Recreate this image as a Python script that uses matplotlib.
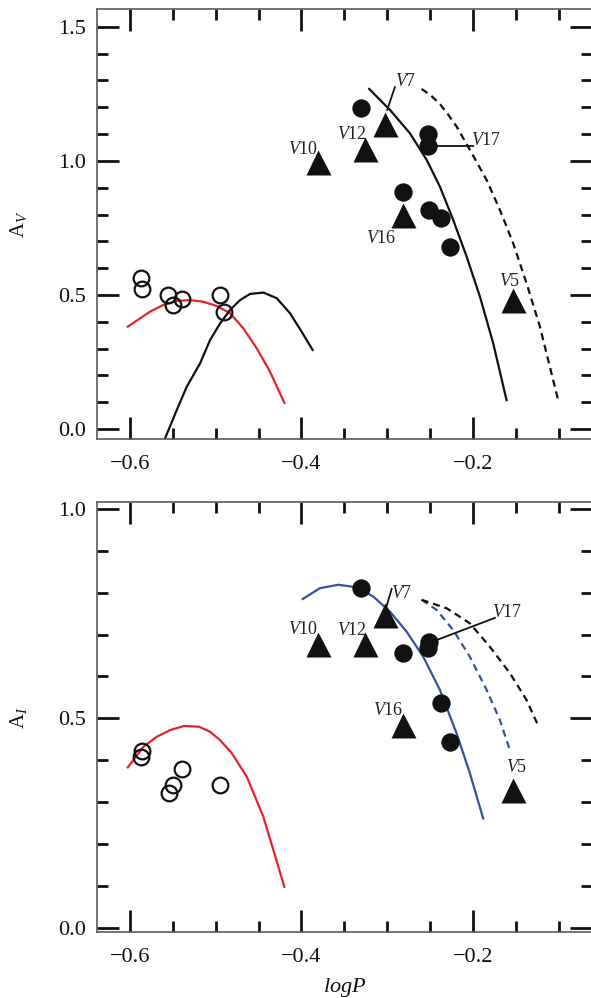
import numpy as np
import matplotlib
matplotlib.use("Agg")
import matplotlib.pyplot as plt
from matplotlib.ticker import MultipleLocator, FuncFormatter

plt.rcParams['font.family'] = 'serif'
plt.rcParams['font.serif'] = ['Liberation Serif', 'DejaVu Serif']
plt.rcParams['mathtext.fontset'] = 'custom'
plt.rcParams['mathtext.rm'] = 'Liberation Serif'
plt.rcParams['mathtext.it'] = 'Liberation Serif:italic'
plt.rcParams['mathtext.bf'] = 'Liberation Serif:bold'

# --- A_V panel ---
open_logp_v = [-0.5875, -0.5856, -0.5553, -0.5500, -0.5397, -0.4947, -0.4900]
open_av = [0.565, 0.521, 0.500, 0.463, 0.484, 0.500, 0.438]

filled_logp_v = [-0.331, -0.252, -0.252, -0.281, -0.2513, -0.2377, -0.2268]
filled_av = [1.197, 1.101, 1.057, 0.883, 0.815, 0.787, 0.680]

tri_names = ['V5', 'V7', 'V10', 'V12', 'V16']
tri_logp = [-0.1537, -0.303, -0.381, -0.3256, -0.2816]
tri_av = [0.481, 1.139, 0.994, 1.045, 0.800]

# fundamental-mode relation (solid) and its shifted copy (dashed)
fu_logp_v = [-0.321, -0.2968, -0.2735, -0.254, -0.2385, -0.223, -0.2073, -0.1918, -0.1763, -0.1607]
fu_av = [1.268, 1.190, 1.103, 1.004, 0.904, 0.780, 0.643, 0.494, 0.320, 0.108]
fu2_logp_v = [-0.2598, -0.2494, -0.2385, -0.2288, -0.219, -0.2035, -0.184, -0.1685, -0.153,
              -0.1374, -0.1218, -0.1005]
fu2_av = [1.268, 1.245, 1.212, 1.172, 1.128, 1.041, 0.929, 0.817, 0.693, 0.544, 0.382, 0.108]

# first-overtone locus
fo_logp_v = [-0.5625, -0.5456, -0.5339, -0.5184, -0.5067, -0.495, -0.4834, -0.4717, -0.460,
             -0.4445, -0.4289, -0.4134, -0.3998, -0.387]
fo_av = [-0.06, 0.071, 0.158, 0.245, 0.332, 0.394, 0.444, 0.481, 0.504,
         0.509, 0.488, 0.432, 0.363, 0.295]

red_logp_v = [-0.6027, -0.5767, -0.5611, -0.5456, -0.530, -0.5145, -0.4989, -0.4834,
              -0.4679, -0.4522, -0.4367, -0.420]
red_av = [0.382, 0.438, 0.463, 0.478, 0.481, 0.475, 0.459, 0.432, 0.376, 0.301, 0.214, 0.098]

# --- A_I panel ---
open_logp_i = [-0.5864, -0.5872, -0.5397, -0.5502, -0.5545, -0.4950]
open_ai = [0.423, 0.407, 0.378, 0.342, 0.322, 0.340]

filled_logp_i = [-0.331, -0.281, -0.2513, -0.2528, -0.2377, -0.2268]
filled_ai = [0.811, 0.655, 0.683, 0.667, 0.536, 0.443]

tri_ai = [0.329, 0.746, 0.678, 0.678, 0.483]

red_logp_i = [-0.6027, -0.5845, -0.5689, -0.5534, -0.5367, -0.5195, -0.5067, -0.495,
              -0.4814, -0.4639, -0.4445, -0.420]
red_ai = [0.383, 0.432, 0.456, 0.472, 0.482, 0.480, 0.468, 0.448, 0.417, 0.361, 0.265, 0.098]

blue_logp = [-0.3986, -0.3784, -0.357, -0.3356, -0.3163, -0.2968, -0.2773, -0.2579,
             -0.2385, -0.219, -0.2035, -0.188]
blue_ai = [0.785, 0.811, 0.819, 0.813, 0.791, 0.755, 0.707, 0.647, 0.568, 0.464, 0.369, 0.261]
blue2_logp = [-0.2598, -0.2423, -0.223, -0.2035, -0.184, -0.1685, -0.1568]
blue2_ai = [0.783, 0.759, 0.711, 0.647, 0.568, 0.496, 0.424]
black2_logp = [-0.2598, -0.2307, -0.2035, -0.1802, -0.1568, -0.1374, -0.125]
black2_ai = [0.783, 0.763, 0.727, 0.671, 0.608, 0.544, 0.488]

# star labels: name -> text position
labels_v = {'V7': (-0.279, 1.296), 'V12': (-0.3415, 1.097), 'V10': (-0.398, 1.041),
            'V17': (-0.185, 1.076), 'V16': (-0.307, 0.712), 'V5': (-0.157, 0.550)}
labels_i = {'V7': (-0.283, 0.799), 'V12': (-0.3415, 0.709), 'V10': (-0.398, 0.713),
            'V17': (-0.1595, 0.753), 'V16': (-0.2987, 0.518), 'V5': (-0.149, 0.383)}
leaders_v = [((-0.291, -0.300), (1.275, 1.190)), ((-0.2423, -0.1997), (1.057, 1.057))]
leaders_i = [((-0.2948, -0.3014), (0.809, 0.763)), ((-0.2423, -0.1743), (0.687, 0.740))]

RED = '#e82228'
BLUE = '#3452a4'
INK = '#111111'


def fmt_tick(v, pos):
    return f"{v:.1f}".replace('-', '\u2212')


def style_axes(ax, ylim, ymajor):
    ax.set_xlim(-0.639, -0.061)
    ax.set_ylim(*ylim)
    ax.xaxis.set_major_locator(MultipleLocator(0.2))
    ax.xaxis.set_minor_locator(MultipleLocator(0.05))
    ax.yaxis.set_major_locator(MultipleLocator(ymajor))
    ax.yaxis.set_minor_locator(MultipleLocator(0.1))
    ax.xaxis.set_major_formatter(FuncFormatter(fmt_tick))
    ax.yaxis.set_major_formatter(FuncFormatter(fmt_tick))
    ax.tick_params(which='both', direction='in', top=True, right=True,
                   color=INK, labelsize=16, labelcolor=INK)
    ax.tick_params(which='major', length=15.5, width=2, pad=8)
    ax.tick_params(axis='x', which='major', pad=11)
    ax.tick_params(which='minor', length=7.7, width=2)
    for sp in ax.spines.values():
        sp.set_color('#5a5a5a')
        sp.set_linewidth(1.2)


def draw_points(ax, ologp, oval, flogp, fval, tval):
    ax.plot(ologp, oval, 'o', ms=11.3, mfc='none', mec=INK, mew=1.6, zorder=4)
    ax.plot(flogp, fval, 'o', ms=13.2, color=INK, mec='none', zorder=4)
    ax.plot(tri_logp, tval, '^', ms=18, color=INK, mec='none', zorder=4)


def draw_labels(ax, labels, leaders):
    for name, (x, y) in labels.items():
        ax.text(x, y, f"$V${name[1:]}", fontsize=13, color='#222222',
                ha='center', va='center', zorder=5)
    for xs, ys in leaders:
        ax.plot(xs, ys, color=INK, lw=1.3, zorder=3)


fig = plt.figure(figsize=(5.91, 9.98), dpi=100)
ax1 = fig.add_axes([0.1636, 0.5598, 0.8381, 0.4309])
ax2 = fig.add_axes([0.1636, 0.0658, 0.8381, 0.4309])

# top: A_V
ax1.plot(red_logp_v, red_av, color=RED, lw=1.6)
ax1.plot(fo_logp_v, fo_av, color=INK, lw=1.6)
ax1.plot(fu_logp_v, fu_av, color=INK, lw=1.6)
ax1.plot(fu2_logp_v, fu2_av, color=INK, lw=1.6, dashes=(3.2, 2.2))
draw_points(ax1, open_logp_v, open_av, filled_logp_v, filled_av, tri_av)
draw_labels(ax1, labels_v, leaders_v)
style_axes(ax1, (-0.038, 1.565), 0.5)
ax1.set_ylabel(r'$\mathrm{A}_V$', fontsize=15, color=INK)
ax1.yaxis.label.set_va('center')
ax1.yaxis.set_label_coords(-0.158, 0.5)

# bottom: A_I
ax2.plot(red_logp_i, red_ai, color=RED, lw=1.6)
ax2.plot(blue_logp, blue_ai, color=BLUE, lw=1.6)
ax2.plot(blue2_logp, blue2_ai, color=BLUE, lw=1.6, dashes=(3.2, 2.2))
ax2.plot(black2_logp, black2_ai, color=INK, lw=1.6, dashes=(3.2, 2.2))
draw_points(ax2, open_logp_i, open_ai, filled_logp_i, filled_ai, tri_ai)
draw_labels(ax2, labels_i, leaders_i)
style_axes(ax2, (-0.011, 1.016), 0.5)
ax2.set_ylabel(r'$\mathrm{A}_I$', fontsize=15, color=INK)
ax2.yaxis.label.set_va('center')
ax2.yaxis.set_label_coords(-0.158, 0.5)
ax2.set_xlabel(r'$logP$', fontsize=16, color=INK)
ax2.xaxis.label.set_va('center')
ax2.xaxis.set_label_coords(0.5, -0.128)

fig.savefig('out.png', dpi=100)
